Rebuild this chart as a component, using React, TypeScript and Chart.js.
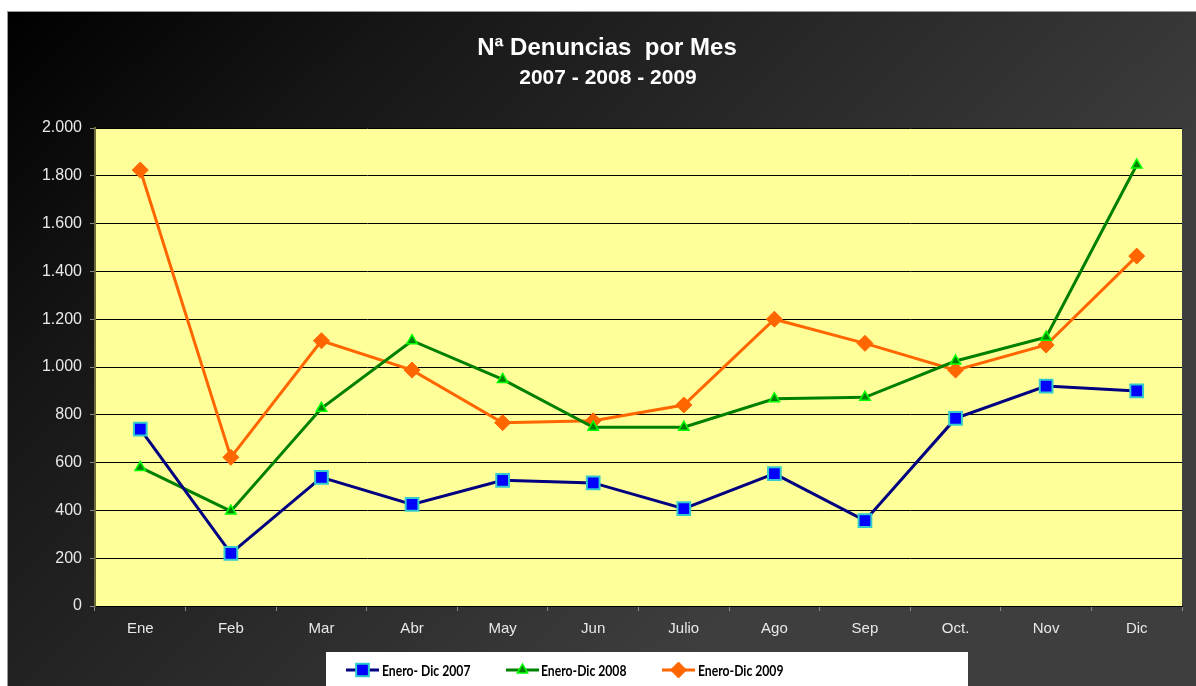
import React, { useEffect, useRef } from "react";
import { Chart, registerables } from "chart.js";

Chart.register(...registerables);

const categories = ["Ene", "Feb", "Mar", "Abr", "May", "Jun", "Julio", "Ago", "Sep", "Oct.", "Nov", "Dic"];
const serie2007 = [740, 220, 538, 425, 526, 515, 407, 554, 357, 785, 920, 900];
const serie2008 = [580, 397, 827, 1110, 948, 748, 748, 867, 873, 1025, 1125, 1845];
const serie2009 = [1824, 622, 1110, 987, 767, 775, 841, 1200, 1099, 987, 1092, 1464];
const seriesNames = ["Enero- Dic 2007", "Enero-Dic 2008", "Enero-Dic 2009"];
const titleLine1 = "Nª Denuncias  por Mes";
const titleLine2 = "2007 - 2008 - 2009";

const W = 1189;
const H = 675;

function fmt(v: number): string {
  const s = String(Math.round(v));
  return s.replace(/\B(?=(\d{3})+(?!\d))/g, ".");
}

function drawMarker(ctx: CanvasRenderingContext2D, style: string, x: number, y: number, r: number, fill: string, stroke: string, bw: number) {
  ctx.save();
  ctx.beginPath();
  if (style === "rect") {
    const s = Math.SQRT1_2 * r;
    ctx.rect(x - s, y - s, 2 * s, 2 * s);
  } else if (style === "triangle") {
    const a = (2 * Math.PI) / 3;
    ctx.moveTo(x, y - r);
    ctx.lineTo(x + Math.sin(a) * r, y - Math.cos(a) * r);
    ctx.lineTo(x + Math.sin(2 * a) * r, y - Math.cos(2 * a) * r);
    ctx.closePath();
  } else {
    ctx.moveTo(x, y - r);
    ctx.lineTo(x + r, y);
    ctx.lineTo(x, y + r);
    ctx.lineTo(x - r, y);
    ctx.closePath();
  }
  ctx.fillStyle = fill;
  ctx.fill();
  ctx.lineWidth = bw;
  ctx.strokeStyle = stroke;
  ctx.stroke();
  ctx.restore();
}

const bgPlugin = {
  id: "bgPlugin",
  beforeDraw(chart: any) {
    const { ctx, chartArea } = chart;
    ctx.save();
    const g = ctx.createLinearGradient(0, 0, W * 0.55, H);
    g.addColorStop(0, "#000000");
    g.addColorStop(0.3, "#161616");
    g.addColorStop(1, "#3e3e3e");
    ctx.fillStyle = g;
    ctx.fillRect(0, 0, W, H);
    ctx.strokeStyle = "#9a9a9a";
    ctx.lineWidth = 1;
    ctx.strokeRect(0.5, 0.5, W + 5, H + 5);
    ctx.fillStyle = "#FFFF99";
    ctx.fillRect(chartArea.left, chartArea.top, chartArea.right - chartArea.left, chartArea.bottom - chartArea.top);
    // titles
    ctx.fillStyle = "#ffffff";
    ctx.textAlign = "center";
    ctx.textBaseline = "middle";
    ctx.font = "bold 24px 'Liberation Sans', Arial, sans-serif";
    ctx.fillText(titleLine1, 600, 37);
    ctx.font = "bold 21px 'Liberation Sans', Arial, sans-serif";
    ctx.fillText(titleLine2, 601, 67);
    ctx.restore();
  },
  afterDraw(chart: any) {
    const { ctx } = chart;
    ctx.save();
    ctx.fillStyle = "#ffffff";
    ctx.fillRect(319, 641, 642, 40);
    const items = [
      { x: 339, tx: 375 },
      { x: 499, tx: 534 },
      { x: 655, tx: 691 },
    ];
    const y = 659;
    chart.data.datasets.forEach((ds: any, i: number) => {
      const it = items[i];
      ctx.strokeStyle = ds.borderColor;
      ctx.lineWidth = 3;
      ctx.beginPath();
      ctx.moveTo(it.x, y);
      ctx.lineTo(it.x + 33, y);
      ctx.stroke();
      drawMarker(ctx, ds.pointStyle, it.x + 16.5, y, ds.pointRadius, ds.pointBackgroundColor, ds.pointBorderColor, ds.pointBorderWidth);
      ctx.save();
      ctx.translate(it.tx, y + 1);
      ctx.scale(0.84, 1);
      ctx.fillStyle = "#000000";
      ctx.font = "bold 14.5px Lato, 'Open Sans', sans-serif";
      ctx.textAlign = "left";
      ctx.textBaseline = "middle";
      ctx.fillText(ds.label, 0, 0);
      ctx.restore();
    });
    ctx.restore();
  },
};

export default function App() {
  const ref = useRef<HTMLCanvasElement>(null);
  useEffect(() => {
    if (!ref.current) return;
    const chart = new Chart(ref.current, {
      type: "line",
      data: {
        labels: categories,
        datasets: [
          {
            label: seriesNames[0],
            data: serie2007,
            borderColor: "#000080",
            borderWidth: 3,
            pointStyle: "rect",
            pointRadius: 9,
            pointBackgroundColor: "#0000FF",
            pointBorderColor: "#33CCCC",
            pointBorderWidth: 2,
            tension: 0,
          },
          {
            label: seriesNames[1],
            data: serie2008,
            borderColor: "#008000",
            borderWidth: 3,
            pointStyle: "triangle",
            pointRadius: 6,
            pointBackgroundColor: "#008000",
            pointBorderColor: "#00FF00",
            pointBorderWidth: 1.5,
            tension: 0,
          },
          {
            label: seriesNames[2],
            data: serie2009,
            borderColor: "#FF6600",
            borderWidth: 3,
            pointStyle: "rectRot",
            pointRadius: 8,
            pointBackgroundColor: "#FF6600",
            pointBorderColor: "#FF6600",
            pointBorderWidth: 1,
            tension: 0,
          },
        ] as any,
      },
      options: {
        responsive: false,
        animation: false,
        layout: { padding: { top: 117, right: 14, left: 0, bottom: 0 } },
        plugins: { legend: { display: false }, title: { display: false }, tooltip: { enabled: false } },
        scales: {
          x: {
            offset: true,
            afterFit: (s: any) => { s.height = 80; },
            grid: { offset: true, drawOnChartArea: false, drawTicks: true, tickLength: 5, tickColor: "#8a8a8a" },
            border: { color: "#000000", width: 1 },
            ticks: { color: "#e8e8e8", font: { family: "'Liberation Sans', Arial, sans-serif", size: 15 }, padding: 9, maxRotation: 0, autoSkip: false },
          },
          y: {
            min: 0,
            max: 2000,
            afterFit: (s: any) => { s.width = 88; },
            grid: { color: "#000000", lineWidth: 1, drawTicks: true, tickLength: 5, tickColor: "#8a8a8a" },
            border: { color: "#6b6b3a", width: 2 },
            ticks: {
              stepSize: 200,
              color: "#e8e8e8",
              font: { family: "'Liberation Sans', Arial, sans-serif", size: 16 },
              padding: 8,
              callback: (v: any) => fmt(Number(v)),
            },
          },
        },
      } as any,
      plugins: [bgPlugin],
    });
    return () => chart.destroy();
  }, []);
  return (
    <div style={{ position: "fixed", left: 0, top: 0, width: 1196, height: 686, background: "#ffffff", overflow: "hidden" }}>
      <canvas ref={ref} width={W} height={H} style={{ position: "absolute", left: 7, top: 11, width: W, height: H }} />
    </div>
  );
}
